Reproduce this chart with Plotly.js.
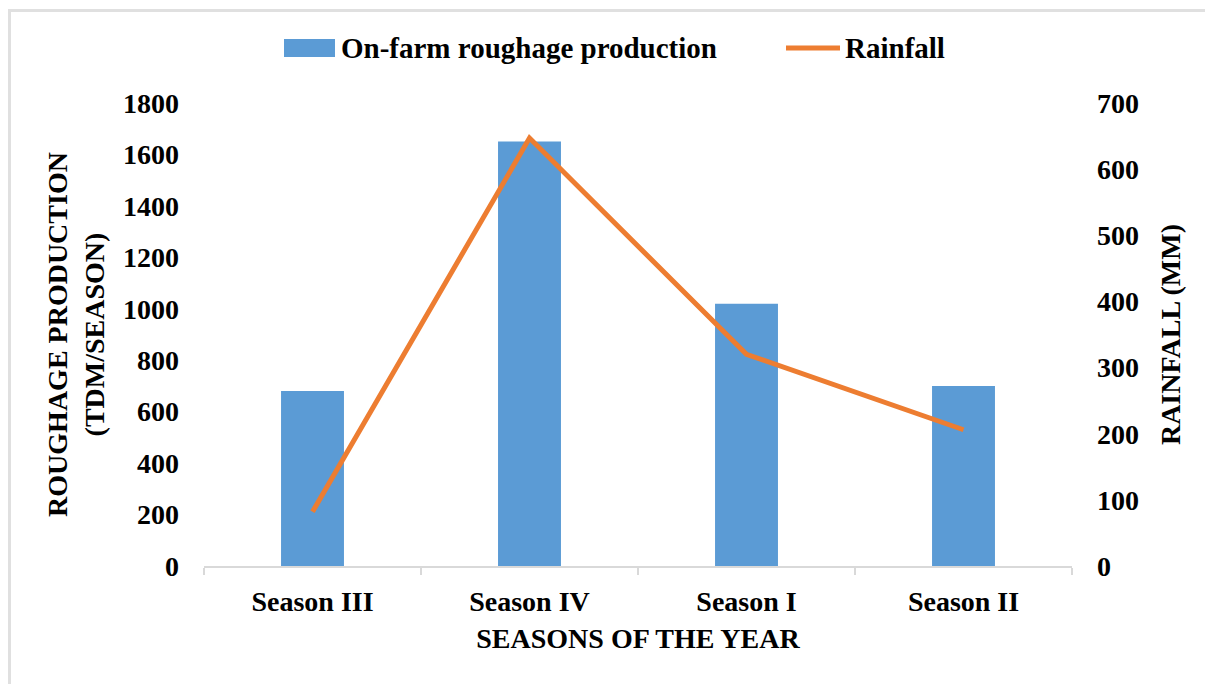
<!DOCTYPE html>
<html>
<head>
<meta charset="utf-8">
<script src="https://cdn.plot.ly/plotly-3.0.1.min.js"></script>
<style>
  html, body { margin: 0; padding: 0; background: #ffffff; }
  #wrap { position: relative; width: 1205px; height: 684px; }
  #chart { width: 1205px; height: 684px; }
  #frame { position: absolute; left: 8px; top: 9px; right: -10px; bottom: -10px;
           border-top: 3px solid #e0e0e0; border-left: 3px solid #e0e0e0; pointer-events: none; }
</style>
</head>
<body>
<div id="wrap">
  <div id="chart"></div>
  <div id="frame"></div>
</div>
<script>
// ---- data ----
const seasons = ["Season III", "Season IV", "Season I", "Season II"];
const roughageProduction = [680, 1650, 1020, 700];   // TDM/season
const rainfall = [82, 647, 320, 206];                 // mm
const barName = "On-farm roughage production";
const lineName = "Rainfall";
const leftTicks = [0, 200, 400, 600, 800, 1000, 1200, 1400, 1600, 1800];
const rightTicks = [0, 100, 200, 300, 400, 500, 600, 700];

const barColor = "#5B9BD5";
const lineColor = "#ED7D31";
const font = { family: "Liberation Serif, Times New Roman, serif", color: "#000000", weight: "bold" };
function f(size) { return Object.assign({}, font, { size: size }); }

const traces = [
  {
    type: "bar", name: barName, x: seasons, y: roughageProduction,
    marker: { color: barColor }, yaxis: "y", showlegend: false
  },
  {
    type: "scatter", mode: "lines", name: lineName, x: seasons, y: rainfall,
    line: { color: lineColor, width: 5 }, yaxis: "y2", showlegend: false
  }
];

// plot area in pixels
const L = 204, R = 1072, T = 103, B = 566;
const W = R - L, H = B - T;
const px = v => (v - L) / W;
const py = v => (B - v) / H;
const legY = 48;

const layout = {
  width: 1205, height: 684,
  paper_bgcolor: "#ffffff", plot_bgcolor: "#ffffff",
  margin: { l: L, r: 1205 - R, t: T, b: 684 - B, pad: 0 },
  bargap: 0.71,
  xaxis: {
    type: "category", range: [-0.5, 3.5],
    showline: true, linecolor: "#d9d9d9", linewidth: 1.5,
    ticks: "outside", tickson: "boundaries", ticklen: 7, tickcolor: "#d9d9d9", tickwidth: 1.5,
    tickfont: f(28), ticklabelstandoff: 10,
    showgrid: false, zeroline: false, automargin: false,
    title: { text: "SEASONS OF THE YEAR", font: f(28), standoff: 12 }
  },
  yaxis: {
    range: [0, 1800], tickvals: leftTicks, ticktext: leftTicks.map(String),
    showline: false, ticks: "", showgrid: false, zeroline: false,
    tickfont: f(28), ticklabelstandoff: 24, automargin: false,
    title: { text: "ROUGHAGE PRODUCTION<br>(TDM/SEASON)", font: f(28), standoff: 10 }
  },
  yaxis2: {
    overlaying: "y", side: "right",
    range: [0, 700], tickvals: rightTicks, ticktext: rightTicks.map(String),
    showline: false, ticks: "", showgrid: false, zeroline: false,
    tickfont: f(28), ticklabelstandoff: 24, automargin: false,
    title: { text: "RAINFALL (MM)", font: f(28), standoff: 22 }
  },
  shapes: [
    { type: "rect", xref: "paper", yref: "paper",
      x0: px(284), x1: px(335), y0: py(57), y1: py(39),
      fillcolor: barColor, line: { width: 0 } },
    { type: "line", xref: "paper", yref: "paper",
      x0: px(786), x1: px(840), y0: py(legY), y1: py(legY),
      line: { color: lineColor, width: 5 } }
  ],
  annotations: [
    { xref: "paper", yref: "paper", x: px(339), y: py(legY), xanchor: "left", yanchor: "middle",
      text: barName, showarrow: false, font: f(29) },
    { xref: "paper", yref: "paper", x: px(843), y: py(legY), xanchor: "left", yanchor: "middle",
      text: lineName, showarrow: false, font: f(29) }
  ]
};

Plotly.newPlot("chart", traces, layout, { displayModeBar: false, staticPlot: true });
</script>
</body>
</html>
